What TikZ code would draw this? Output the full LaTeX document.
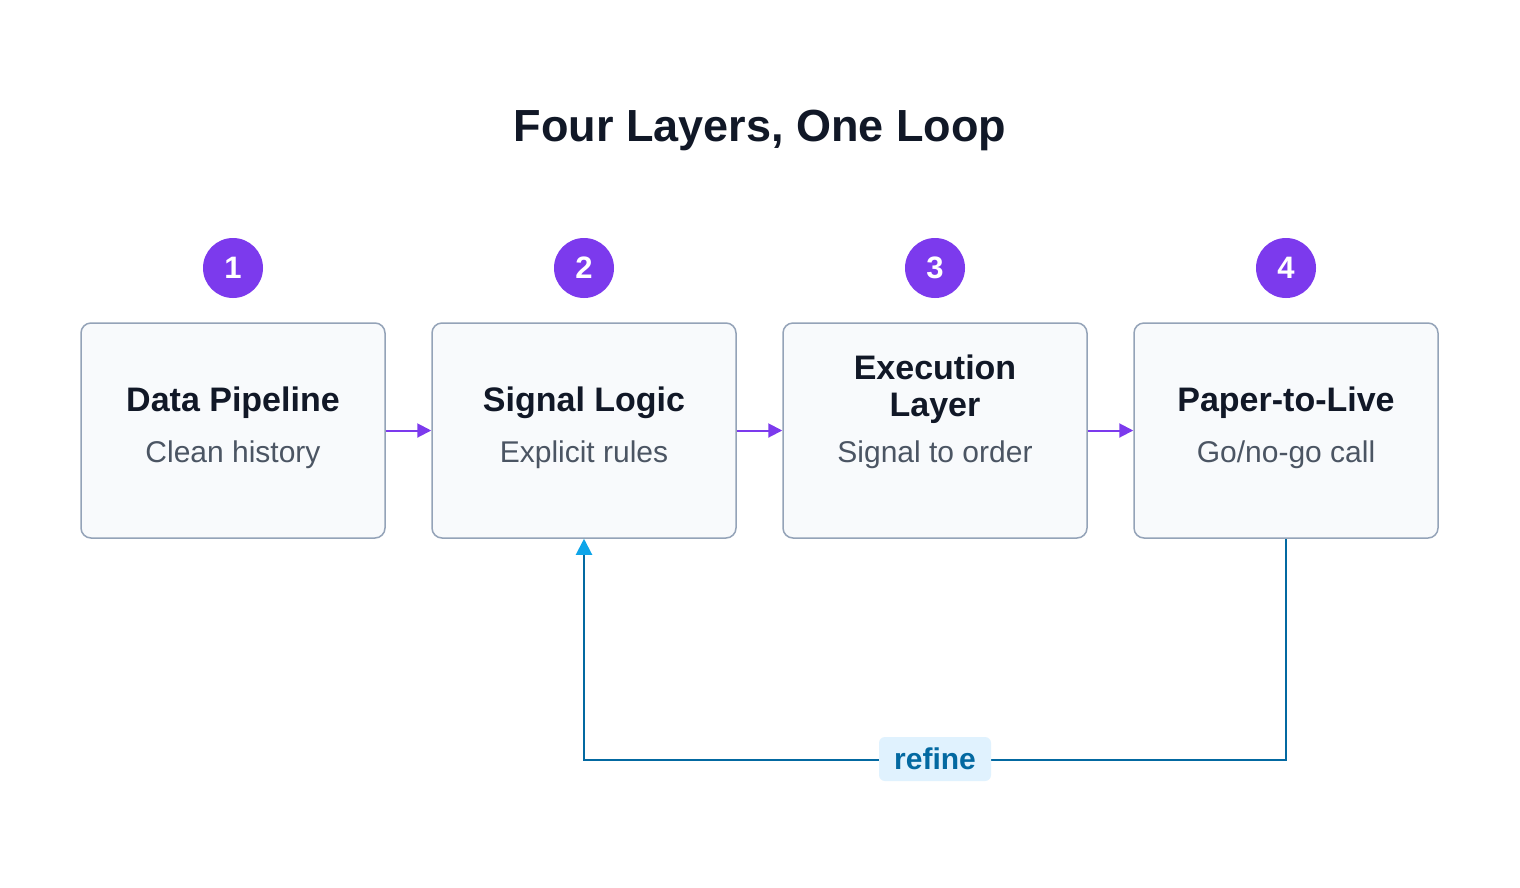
\documentclass[tikz,border=0pt]{standalone}
\usepackage{fontspec}
\setmainfont{Liberation Sans}
\usetikzlibrary{arrows.meta}
\definecolor{purp}{HTML}{7C3AED}
\definecolor{boxfill}{HTML}{F8FAFC}
\definecolor{boxline}{HTML}{94A3B8}
\definecolor{loopc}{HTML}{0369A1}
\definecolor{tipc}{HTML}{0EA5E9}
\definecolor{lblfill}{HTML}{E0F2FE}
\definecolor{titlec}{HTML}{111827}
\definecolor{subc}{HTML}{4B5563}
\begin{document}
\begin{tikzpicture}[x=1pt,y=-1pt,
  box/.style={draw=boxline,line width=1.5pt,fill=boxfill,rounded corners=10pt,minimum width=304pt,minimum height=215pt,inner sep=0pt},
  num/.style={circle,fill=purp,minimum size=60pt,inner sep=0pt,text=white,font=\fontsize{31}{36}\selectfont\bfseries},
  ttl/.style={text=titlec,font=\fontsize{34}{40}\selectfont\bfseries,align=center},
  sub/.style={text=subc,font=\fontsize{30}{36}\selectfont},
  flow/.style={draw=purp,line width=2pt,-{Triangle[length=14pt,width=14pt]}}]
\useasboundingbox[fill=white] (0,0) rectangle (1520,887);
\node[text=titlec,font=\fontsize{45}{52}\selectfont\bfseries] (title) at (760,130) {Four Layers, One Loop};
\foreach \i/\x in {1/233,2/584,3/935,4/1286}{
  \node[box] (b\i) at (\x,430.5) {};
  \node[num] (n\i) at (\x,268) {\i};
}
\node[ttl] (t1) at (233,403) {Data Pipeline};
\node[sub] (s1) at (233,455) {Clean history};
\node[ttl] (t2) at (584,403) {Signal Logic};
\node[sub] (s2) at (584,455) {Explicit rules};
\node[ttl] (t3) at (935,389) {Execution\\[-3pt]Layer};
\node[sub] (s3) at (935,455) {Signal to order};
\node[ttl] (t4) at (1286,403) {Paper-to-Live};
\node[sub] (s4) at (1286,455) {Go/no-go call};
\draw[flow] (b1) -- (b2);
\draw[flow] (b2) -- (b3);
\draw[flow] (b3) -- (b4);
\coordinate (c1) at (1286,760);
\coordinate (c2) at (584,760);
\draw[draw=loopc,line width=2pt] (b4.south) -- (c1) -- (c2) -- ([yshift=-14pt]b2.south);
\draw[draw=loopc,line width=2pt,-{Triangle[length=16pt,width=16pt,color=tipc]}] ([yshift=-16pt]b2.south) -- (b2.south);
\node[fill=lblfill,rounded corners=6pt,minimum width=112pt,minimum height=44pt,text=loopc,font=\fontsize{30}{36}\selectfont\bfseries] (lbl) at (935,759) {refine};
\end{tikzpicture}
\end{document}
